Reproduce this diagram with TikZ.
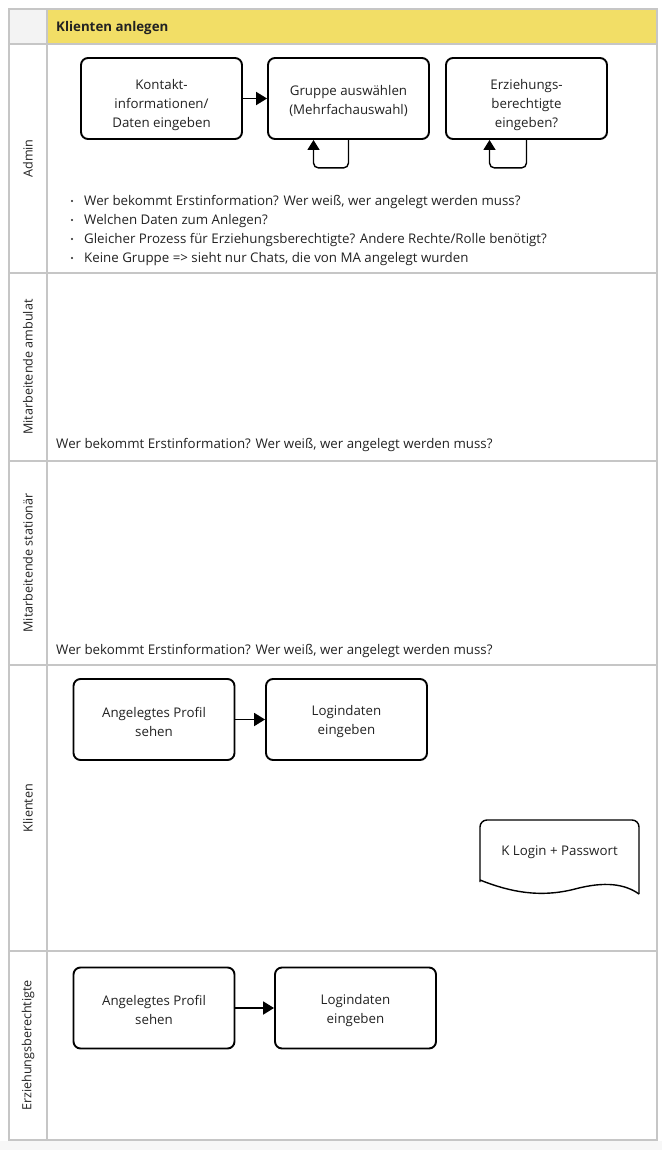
\documentclass[tikz,border=0pt]{standalone}
\usepackage{fontspec}
\setmainfont{Open Sans}
\usetikzlibrary{arrows.meta}
\definecolor{hdr}{HTML}{F2DE66}
\definecolor{lanegray}{HTML}{C6C6C6}
\definecolor{corner}{HTML}{F3F3F3}
\definecolor{txt}{HTML}{222222}
\definecolor{pagebg}{HTML}{F7F7F7}
\newcommand{\dropA}{\rule{0pt}{23pt}}
\newcommand{\dropB}{\rule{0pt}{14.5pt}}
\tikzset{
 proc/.style={draw=black, line width=1.9pt, rounded corners=7pt, minimum width=161pt, minimum height=81pt, align=center, font=\fontsize{13.3}{19}\selectfont, text=txt, inner sep=0pt},
 flow/.style={line width=1.9pt, -{Triangle[length=11pt,width=13pt]}},
 loopline/.style={line width=1.4pt, rounded corners=5pt, -{Triangle[length=10pt,width=12pt]}},
 lanelbl/.style={rotate=90, font=\fontsize{12.6}{14}\selectfont, text=txt},
 note/.style={anchor=west, font=\fontsize{13.3}{15}\selectfont, text=txt, inner sep=0pt},
 sep/.style={draw=lanegray, line width=1.2pt},
 bulletdot/.style={circle, fill=txt, inner sep=0pt, minimum size=2.3pt},
}
\begin{document}
\begin{tikzpicture}[x=1pt,y=-1pt]
\useasboundingbox (0,0) rectangle (662,1150);
\fill[white] (0,0) rectangle (662,1150);
\fill[pagebg] (0,1141) rectangle (662,1150);
% frame
\fill[corner] (9,9) rectangle (47,44);
\fill[hdr] (47,9) rectangle (657,44);
\draw[sep] (9,9) rectangle (657,1140);
\draw[sep] (47,9) -- (47,1140);
\draw[sep] (9,44) -- (657,44);
\draw[sep] (9,273) -- (657,273);
\draw[sep] (9,461) -- (657,461);
\draw[sep] (9,665) -- (657,665);
\draw[sep] (9,951) -- (657,951);
\node[anchor=west, font=\fontsize{13.3}{15}\selectfont\bfseries, text=txt, inner sep=0pt] (title) at (56,28.5) {Klienten anlegen};
% lane labels
\node[lanelbl] (lA) at (28,158.5) {Admin};
\node[lanelbl] (lB) at (28,367) {Mitarbeitende ambulat};
\node[lanelbl] (lC) at (28,563) {Mitarbeitende stationär};
\node[lanelbl] (lD) at (28,808) {Klienten};
\node[lanelbl] (lE) at (28,1045.5) {Erziehungsberechtigte};
% Admin lane
\node[proc] (b1) at (161.5,98.5) {\dropA Kontakt-\\informationen/\\Daten eingeben};
\node[proc] (b2) at (348.5,98.5) {\dropB Gruppe auswählen\\(Mehrfachauswahl)};
\node[proc] (b3) at (526.5,98.5) {\dropA Erziehungs-\\berechtigte\\eingeben?};
\draw[flow] (b1) -- (b2);
\draw[loopline] (b2.south) -- ++(0,28) -| ([xshift=-35pt]b2.south);
\draw[loopline] (b3.south) -- ++(0,28) -| ([xshift=-37pt]b3.south);
\node[bulletdot] (d1) at (72,201) {};
\node[bulletdot] (d2) at (72,220) {};
\node[bulletdot] (d3) at (72,239) {};
\node[bulletdot] (d4) at (72,258) {};
\node[note] (n1) at (84,202) {Wer bekommt Erstinformation? Wer weiß, wer angelegt werden muss?};
\node[note] (n2) at (84,221) {Welchen Daten zum Anlegen?};
\node[note] (n3) at (84,240) {Gleicher Prozess für Erziehungsberechtigte? Andere Rechte/Rolle benötigt?};
\node[note] (n4) at (84,259) {Keine Gruppe => sieht nur Chats, die von MA angelegt wurden};
% Mitarbeitende lanes
\node[note] (m1) at (56,445) {Wer bekommt Erstinformation? Wer weiß, wer angelegt werden muss?};
\node[note] (m2) at (56,651) {Wer bekommt Erstinformation? Wer weiß, wer angelegt werden muss?};
% Klienten lane
\node[proc] (k1) at (154,719.5) {\dropB Angelegtes Profil\\sehen};
\node[proc] (k2) at (346.5,719.5) {\dropB Logindaten\\eingeben};
\draw[flow] (k1) -- (k2);
\draw[line width=1.4pt, rounded corners=7pt] (480,882) -- (480,820) -- (639,820) -- (639,894);
\draw[line width=1.4pt] (480,880) .. controls (510,892) and (540,898) .. (575,889) .. controls (605,881) and (625,884) .. (639,894);
\node[font=\fontsize{13.3}{15}\selectfont, text=txt, inner sep=0pt] (doc) at (559.5,852.5) {K Login + Passwort};
% Erziehungsberechtigte lane
\node[proc] (e1) at (154,1008) {\dropB Angelegtes Profil\\sehen};
\node[proc] (e2) at (355.5,1008) {\dropB Logindaten\\eingeben};
\draw[flow] (e1) -- (e2);
\end{tikzpicture}
\end{document}
